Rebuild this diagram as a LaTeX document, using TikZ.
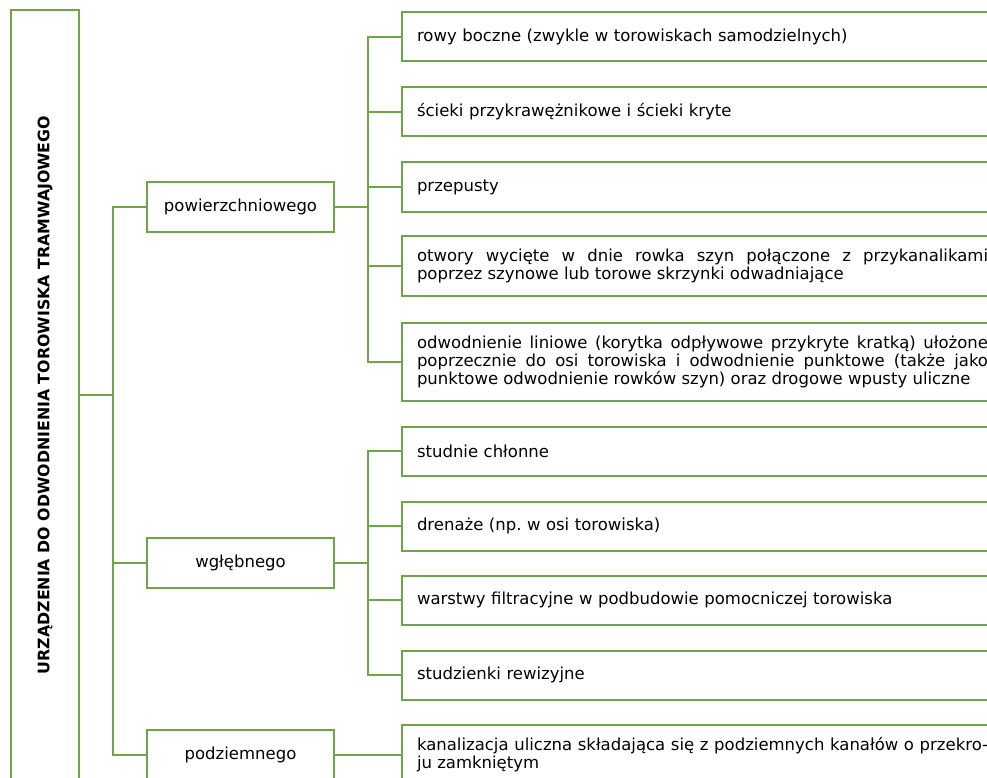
\documentclass[tikz,border=0pt]{standalone}
\usepackage{fontspec}
\setmainfont{DejaVu Sans}
\usepackage{tikz}
\usetikzlibrary{positioning}
\definecolor{zielen}{RGB}{108,166,70}
\frenchspacing

\begin{document}
\begin{tikzpicture}[x=1pt,y=1pt,
	ramka/.style={draw=zielen, line width=2pt, inner sep=0pt},
	typ/.style={ramka, minimum width=187pt, minimum height=50pt, font=\fontsize{16.5}{18}\selectfont},
	opis/.style={ramka, anchor=west, text width=571pt, inner xsep=15pt, inner ysep=13pt, minimum height=49pt, align=left, font=\fontsize{16.5}{18}\selectfont},
	opisj/.style={opis, align=justify},
	linia/.style={zielen, line width=2pt}]
				\useasboundingbox (0,0) rectangle (987,-778);
				\clip (0,0) rectangle (987,-778);
				\node[ramka, minimum width=68pt, minimum height=770pt] (urz) at (45,-395) {};
				\node[rotate=90, font=\bfseries\fontsize{15.8}{18}\selectfont] (tytul) at (urz) {URZĄDZENIA DO ODWODNIENIA TOROWISKA TRAMWAJOWEGO};
				\node[typ] (pow) at (240.5,-207) {powierzchniowego};
				\node[typ] (wgl) at (240.5,-563) {wgłębnego};
				\node[typ] (pod) at (240.5,-755) {podziemnego};
				\node[opis] (rowy) at (401,-37) {rowy boczne (zwykle w torowiskach samodzielnych)};
				\node[opis] (scieki) at (401,-112) {ścieki przykrawężnikowe i ścieki kryte};
				\node[opis] (przep) at (401,-187) {przepusty};
				\node[opisj] (otw) at (401,-266) {otwory wycięte w dnie rowka szyn połączone z przykanalikami\linebreak poprzez szynowe lub torowe skrzynki odwadniające};
				\node[opisj] (odw) at (401,-362) {odwodnienie liniowe (korytka odpływowe przykryte kratką) ułożone\linebreak poprzecznie do osi torowiska i odwodnienie punktowe (także jako\linebreak punktowe odwodnienie rowków szyn) oraz drogowe wpusty uliczne};
				\node[opis] (stud) at (401,-451) {studnie chłonne};
				\node[opis] (dren) at (401,-526) {drenaże (np. w osi torowiska)};
				\node[opis] (warst) at (401,-600) {warstwy filtracyjne w podbudowie pomocniczej torowiska};
				\node[opis] (rew) at (401,-675) {studzienki rewizyjne};
				\node[opisj] (kan) at (401,-755) {kanalizacja uliczna składająca się z podziemnych kanałów o przekro-\linebreak ju zamkniętym};
				\coordinate (k0) at (113,0);
				\coordinate (k1) at (368,0);
				\draw[linia] (urz.east) -- (urz.east -| k0);
				\draw[linia] (pow.west) -- (pow.west -| k0) |- (pod.west);
				\draw[linia] (wgl.west) -- (wgl.west -| k0);
				\draw[linia] (pow.east) -- (pow.east -| k1);
				\draw[linia] (rowy.west) -- (rowy.west -| k1) |- (odw.west);
				\foreach \n in {scieki,przep,otw}
					\draw[linia] (\n.west) -- (\n.west -| k1);
				\draw[linia] (wgl.east) -- (wgl.east -| k1);
				\draw[linia] (stud.west) -- (stud.west -| k1) |- (rew.west);
				\foreach \n in {dren,warst}
					\draw[linia] (\n.west) -- (\n.west -| k1);
				\draw[linia] (pod.east) -- (kan.west);
			\end{tikzpicture}
\end{document}
